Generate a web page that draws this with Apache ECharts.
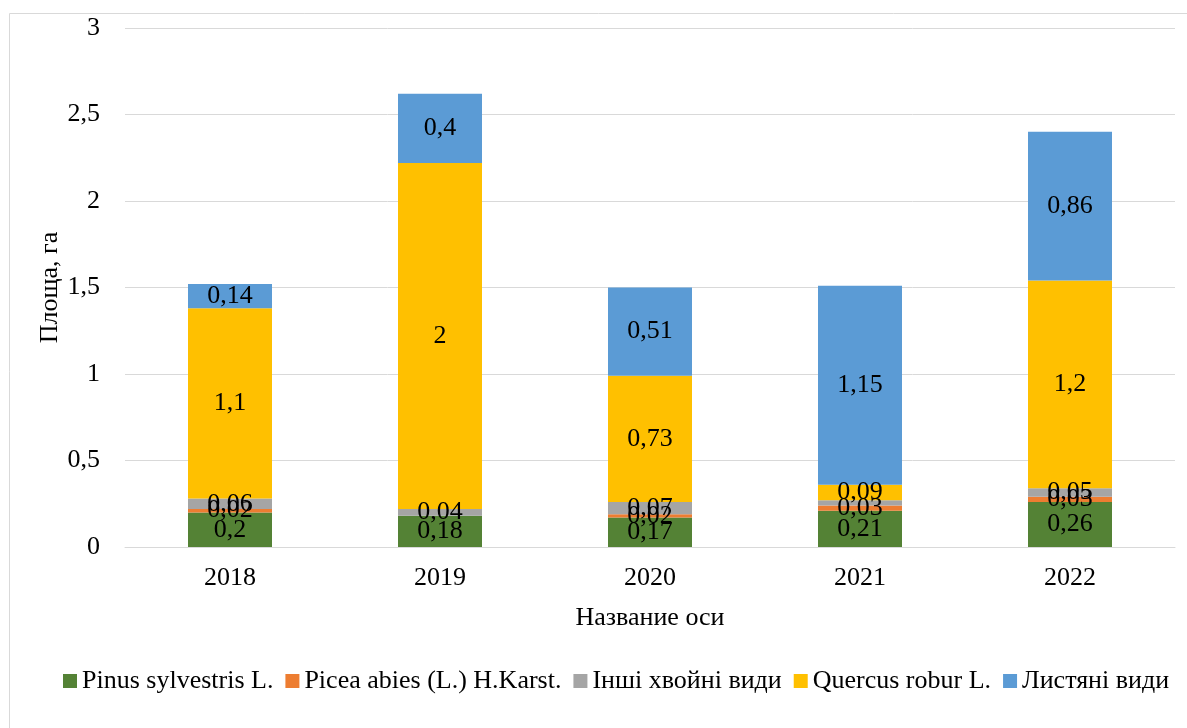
<!DOCTYPE html>
<html><head><meta charset="utf-8">
<script src="https://cdn.jsdelivr.net/npm/echarts@6/dist/echarts.min.js"></script>
<style>html,body{margin:0;padding:0;background:#fff}#c{width:1187px;height:728px}</style>
</head><body><div id="c"></div>
<script>
const years = ['2018', '2019', '2020', '2021', '2022'];
const seriesNames = ['Pinus sylvestris L.', 'Picea abies (L.) H.Karst.', 'Інші хвойні види', 'Quercus robur L.', 'Листяні види'];
const pinus = [0.2, 0.18, 0.17, 0.21, 0.26];
const picea = [0.02, null, 0.02, 0.03, 0.03];
const other = [0.06, 0.04, 0.07, 0.03, 0.05];
const quercus = [1.1, 2, 0.73, 0.09, 1.2];
const leafy = [0.14, 0.4, 0.51, 1.15, 0.86];
const yTicks = [0, 0.5, 1, 1.5, 2, 2.5, 3];
// labels not shown in the reference: [seriesIndex, dataIndex]
const hiddenLabels = [[2, 3]];

const colors = ['#548235', '#ED7D31', '#A5A5A5', '#FFC000', '#5B9BD5'];
const values = [pinus, picea, other, quercus, leafy];
const font = 'Liberation Serif';
const fs = 26;
const fmt = v => String(v).replace('.', ',');

const series = values.map((arr, si) => ({
  name: seriesNames[si],
  type: 'bar',
  stack: 'total',
  barWidth: '40%',
  itemStyle: { color: colors[si] },
  label: {
    show: true, position: 'inside', color: '#000', fontFamily: font, fontSize: fs,
    formatter: p => p.value == null ? '' : fmt(p.value)
  },
  data: arr.map((v, di) => {
    const hide = hiddenLabels.some(h => h[0] === si && h[1] === di);
    return hide ? { value: v, label: { show: false } } : v;
  })
}));

const chart = echarts.init(document.getElementById('c'));
chart.setOption({
  animation: false,
  textStyle: { fontFamily: font },
  grid: { left: 125, right: 12, top: 28, bottom: 181, containLabel: false },
  legend: {
    data: seriesNames, top: 663, left: 58, itemWidth: 14, itemHeight: 14, itemGap: 12,
    icon: 'rect',
    textStyle: { fontFamily: font, fontSize: fs, color: '#000' }
  },
  xAxis: {
    type: 'category', data: years,
    name: 'Название оси', nameLocation: 'middle', nameGap: 58, nameMoveOverlap: false,
    nameTextStyle: { fontFamily: font, fontSize: fs, color: '#000' },
    axisLine: { lineStyle: { color: '#D9D9D9', width: 1 } },
    axisTick: { show: false },
    axisLabel: { fontFamily: font, fontSize: fs, color: '#000', margin: 18 }
  },
  yAxis: {
    type: 'value', min: yTicks[0], max: yTicks[yTicks.length - 1], interval: 0.5,
    name: 'Площа, га', nameLocation: 'middle', nameGap: 62, nameRotate: 90, nameMoveOverlap: false,
    nameTextStyle: { fontFamily: font, fontSize: fs, color: '#000' },
    axisLine: { show: false }, axisTick: { show: false },
    splitLine: { lineStyle: { color: '#D9D9D9', width: 1 } },
    axisLabel: { fontFamily: font, fontSize: fs, color: '#000', margin: 25, formatter: v => fmt(v) }
  },
  graphic: [{
    type: 'rect', left: 7, top: 11, silent: true,
    shape: { x: 0, y: 0, width: 1200, height: 730 },
    style: { fill: 'none', stroke: '#D9D9D9', lineWidth: 1 }
  }],
  series: series
});
</script></body></html>
